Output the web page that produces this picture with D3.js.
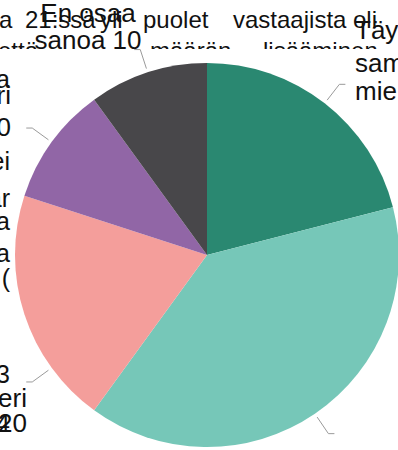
<!DOCTYPE html>
<html><head><meta charset="utf-8">
<script src="https://cdn.jsdelivr.net/npm/d3@7"></script>
<style>html,body{margin:0;padding:0;background:#fff;overflow:hidden}svg{display:block}</style>
</head><body>
<svg id="c" width="398" height="450"></svg>
<script>
// ---- data ----
const categories = ["Täysin samaa mieltä", "Jokseenkin samaa mieltä", "Jokseenkin eri mieltä", "Ei samaa eikä eri mieltä", "En osaa sanoa"];
const values = [21, 39, 20, 10, 10];
const colors = ["#2a8871", "#76c7b8", "#f49e9b", "#9166a6", "#48474a"];
const labelLines = [["Täysin", "samaa", "mieltä 21"], ["Jokseenkin", "samaa mieltä 39"], ["Jokseenkin eri", "mieltä 20"], ["Ei samaa eikä eri", "mieltä 10"], ["En osaa", "sanoa 10"]];
const titleLine1 = ["a", "21:ssä", "yli", "puolet", "vastaajista", "oli"];
const titleLine2 = ["että", "määrän", "lisääminen"];
const sideText = ["a", "ei", "ar", "ja", "ta", "(", "3", "4"];

// ---- layout ----
const W = 398, H = 450, cx = 207, cy = 255, R = 192;
const font = "'Liberation Sans', Arial, sans-serif";
const t1x = [-1, 25, 100, 143, 233, 353];
const t2x = [-2, 150, 263];
const sideY = [88, 170, 207, 230, 262, 287, 383, 432];
const leaderFrac = [0.5, 0.5, 0.25, 0.5, 0.5];
const labelAnchor = [
  {x: 355, ys: [39, 72, 100], anchor: "start"},
  {x: 340, ys: [478, 505], anchor: "start"},
  {x: 27, ys: [407, 432], anchor: "end"},
  {x: 11, ys: [104, 136], anchor: "end"},
  {x: 88, ys: [22, 49], anchor: "middle"}
];

const svg = d3.select("#c");
svg.append("rect").attr("width", W).attr("height", H).attr("fill", "#fff");

// background paragraph text
const tg = svg.append("g").attr("font-family", font).attr("font-size", 24).attr("fill", "#111");
tg.selectAll("text.l1").data(titleLine1).join("text").attr("class", "l1")
  .attr("x", (d, i) => t1x[i]).attr("y", 28).text(d => d);
svg.append("clipPath").attr("id", "clip2").append("rect").attr("x", 0).attr("y", 0).attr("width", W).attr("height", 49);
tg.append("g").attr("clip-path", "url(#clip2)").selectAll("text").data(titleLine2).join("text")
  .attr("x", (d, i) => t2x[i]).attr("y", 59).text(d => d);
tg.selectAll("text.side").data(sideText).join("text").attr("class", "side")
  .attr("x", 10).attr("y", (d, i) => sideY[i]).attr("text-anchor", "end").attr("font-size", 25).text(d => d);

// pie
const pie = d3.pie().sort(null).value(d => d)(values);
const arc = d3.arc().innerRadius(0).outerRadius(R);
const g = svg.append("g").attr("transform", `translate(${cx},${cy})`);
g.selectAll("path").data(pie).join("path").attr("d", arc).attr("fill", (d, i) => colors[i]);

// leaders
const pt = (a, r) => [Math.sin(a) * r, -Math.cos(a) * r];
g.selectAll("polyline").data(pie).join("polyline")
  .attr("points", (d, i) => {
    const a = d.startAngle + (d.endAngle - d.startAngle) * leaderFrac[i];
    const p1 = pt(a, R + 4), p2 = pt(a, R + 24);
    const side = Math.sin(a) >= 0 ? 1 : -1;
    const p3 = [p2[0] + side * 6, p2[1]];
    return [p1, p2, p3].map(p => p.join(",")).join(" ");
  })
  .attr("fill", "none").attr("stroke", "#9a9a9a").attr("stroke-width", 1);

// labels
const lg = svg.append("g").attr("font-family", font).attr("font-size", 26).attr("fill", "#111");
pie.forEach((d, i) => {
  const L = labelAnchor[i];
  labelLines[i].forEach((line, j) => {
    lg.append("text").attr("x", L.x).attr("y", L.ys[j]).attr("text-anchor", L.anchor).text(line);
  });
});
</script>
</body></html>
